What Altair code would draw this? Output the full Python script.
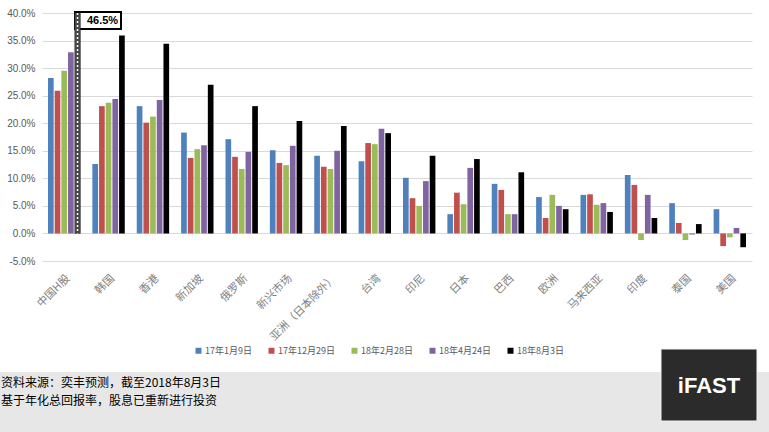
import altair as alt
import pandas as pd

categories = ["中国H股", "韩国", "香港", "新加坡", "俄罗斯", "新兴市场", "亚洲（日本除外）", "台湾",
              "印尼", "日本", "巴西", "欧洲", "马来西亚", "印度", "泰国", "美国"]
series_names = ["17年1月9日", "17年12月29日", "18年2月28日", "18年4月24日", "18年8月3日"]
colors = ["#4F81BD", "#C0504D", "#9BBB59", "#8064A2", "#000000"]

s1 = [28.2, 12.6, 23.1, 18.3, 17.1, 15.1, 14.1, 13.1, 10.1, 3.5, 9.0, 6.6, 7.0, 10.6, 5.5, 4.4]
s2 = [25.9, 23.1, 20.1, 13.7, 13.9, 12.8, 12.1, 16.4, 6.4, 7.4, 7.9, 2.8, 7.1, 8.8, 1.9, -2.3]
s3 = [29.5, 23.7, 21.2, 15.3, 11.7, 12.4, 11.7, 16.2, 5.0, 5.3, 3.5, 7.0, 5.2, -1.2, -1.2, -0.7]
s4 = [32.9, 24.4, 24.2, 16.0, 14.8, 15.9, 15.0, 19.0, 9.5, 11.9, 3.5, 5.0, 5.5, 7.0, -0.2, 1.0]
s5 = [46.5, 35.9, 34.4, 27.0, 23.1, 20.4, 19.5, 18.2, 14.1, 13.5, 11.1, 4.4, 3.9, 2.8, 1.7, -2.5]

y_ticks = [-5, 0, 5, 10, 15, 20, 25, 30, 35, 40]
footnote_1 = ["资料来源：奕丰预测，截至2018年8月3日"]
footnote_2 = ["基于年化总回报率，股息已重新进行投资"]
logo_text = ["iFAST"]

rows = []
for i, c in enumerate(categories):
    for name, vals in zip(series_names, [s1, s2, s3, s4, s5]):
        rows.append({"cat": c, "series": name, "value": vals[i]})
df = pd.DataFrame(rows)
one = pd.DataFrame({"k": [0]})

CJK = "Noto Sans CJK SC"

x_enc = alt.X("cat:N", sort=categories,
              scale=alt.Scale(paddingInner=0.27, paddingOuter=0.135),
              axis=alt.Axis(title=None, labelAngle=-45, labelAlign="right", labelBaseline="top",
                            labelFont=CJK, labelFontSize=11, labelColor="#7f7f7f",
                            domain=False, ticks=False, labelPadding=11, grid=False))
xo_enc = alt.XOffset("series:N", sort=series_names, scale=alt.Scale(paddingInner=0.15))
y_enc = alt.Y("value:Q", scale=alt.Scale(domain=[-5, 40], clamp=True, nice=False, zero=False),
              axis=alt.Axis(title=None, values=y_ticks, domain=False, ticks=False,
                            gridColor="#d9d9d9", labelColor="#595959", labelFontSize=10,
                            labelFont="Liberation Sans", labelPadding=7,
                            labelExpr="replace(format(datum.value/100, '.1%'), '−', '-')"))

base = alt.Chart(df)

bars = base.mark_bar().encode(
    x=x_enc, xOffset=xo_enc, y=y_enc, y2=alt.datum(0),
    color=alt.Color("series:N", sort=series_names,
                    scale=alt.Scale(domain=series_names, range=colors),
                    legend=alt.Legend(orient="none", direction="horizontal", legendX=152, legendY=333,
                                      title=None, symbolType="square", symbolSize=36,
                                      symbolStrokeWidth=0, labelFont=CJK, labelFontSize=9,
                                      labelColor="#595959", columnPadding=15, labelOffset=2)),
)

big = base.transform_filter("datum.value > 40")
over = big.mark_bar(color="#474747").encode(x=x_enc, xOffset=xo_enc, y=y_enc, y2=alt.datum(0))
dash = big.mark_rule(color="white", strokeDash=[2, 2], strokeWidth=1.5).encode(
    x=x_enc, xOffset=xo_enc, y=y_enc, y2=alt.datum(0))
label = big.mark_text(dx=25, dy=8, fontWeight="bold", fontSize=11, font="Liberation Sans",
                      color="black").encode(
    x=x_enc, xOffset=xo_enc, y=y_enc,
    text=alt.Text("lab:N")).transform_calculate(lab="format(datum.value, '.1f') + '%'")

box = alt.Chart(one).mark_rect(fill="white", stroke="black", strokeWidth=2).encode(
    x=alt.value(33), x2=alt.value(79), y=alt.value(-1), y2=alt.value(16))

band = alt.Chart(one).mark_rect(color="#e7e7e7").encode(
    x=alt.value(-42), x2=alt.value(727), y=alt.value(359), y2=alt.value(419))
logo = alt.Chart(one).mark_rect(fill="#2b2b2b", stroke="#f2f2f2", strokeWidth=1).encode(
    x=alt.value(619), x2=alt.value(715), y=alt.value(336), y2=alt.value(408))
logo_t = alt.Chart(one).mark_text(color="white", font="Liberation Sans", fontWeight="bold",
                                  fontSize=22, align="center", baseline="middle").encode(
    x=alt.value(667), y=alt.value(373), text=alt.value(logo_text[0]))
foot1 = alt.Chart(one).mark_text(color="black", font=CJK, fontSize=12, align="left",
                                 baseline="alphabetic").encode(
    x=alt.value(-41), y=alt.value(374), text=alt.value(footnote_1[0]))
foot2 = alt.Chart(one).mark_text(color="black", font=CJK, fontSize=12, align="left",
                                 baseline="alphabetic").encode(
    x=alt.value(-41), y=alt.value(392), text=alt.value(footnote_2[0]))

chart = alt.layer(band, logo, logo_t, foot1, foot2, box, bars, over, dash, label).properties(
    width=710, height=248,
    padding={"left": 42, "top": 13, "right": 17, "bottom": 171},
    autosize="none",
    background="white",
).configure_view(stroke=None)

chart.save("out.html", embed_options={"renderer": "svg", "actions": False})
